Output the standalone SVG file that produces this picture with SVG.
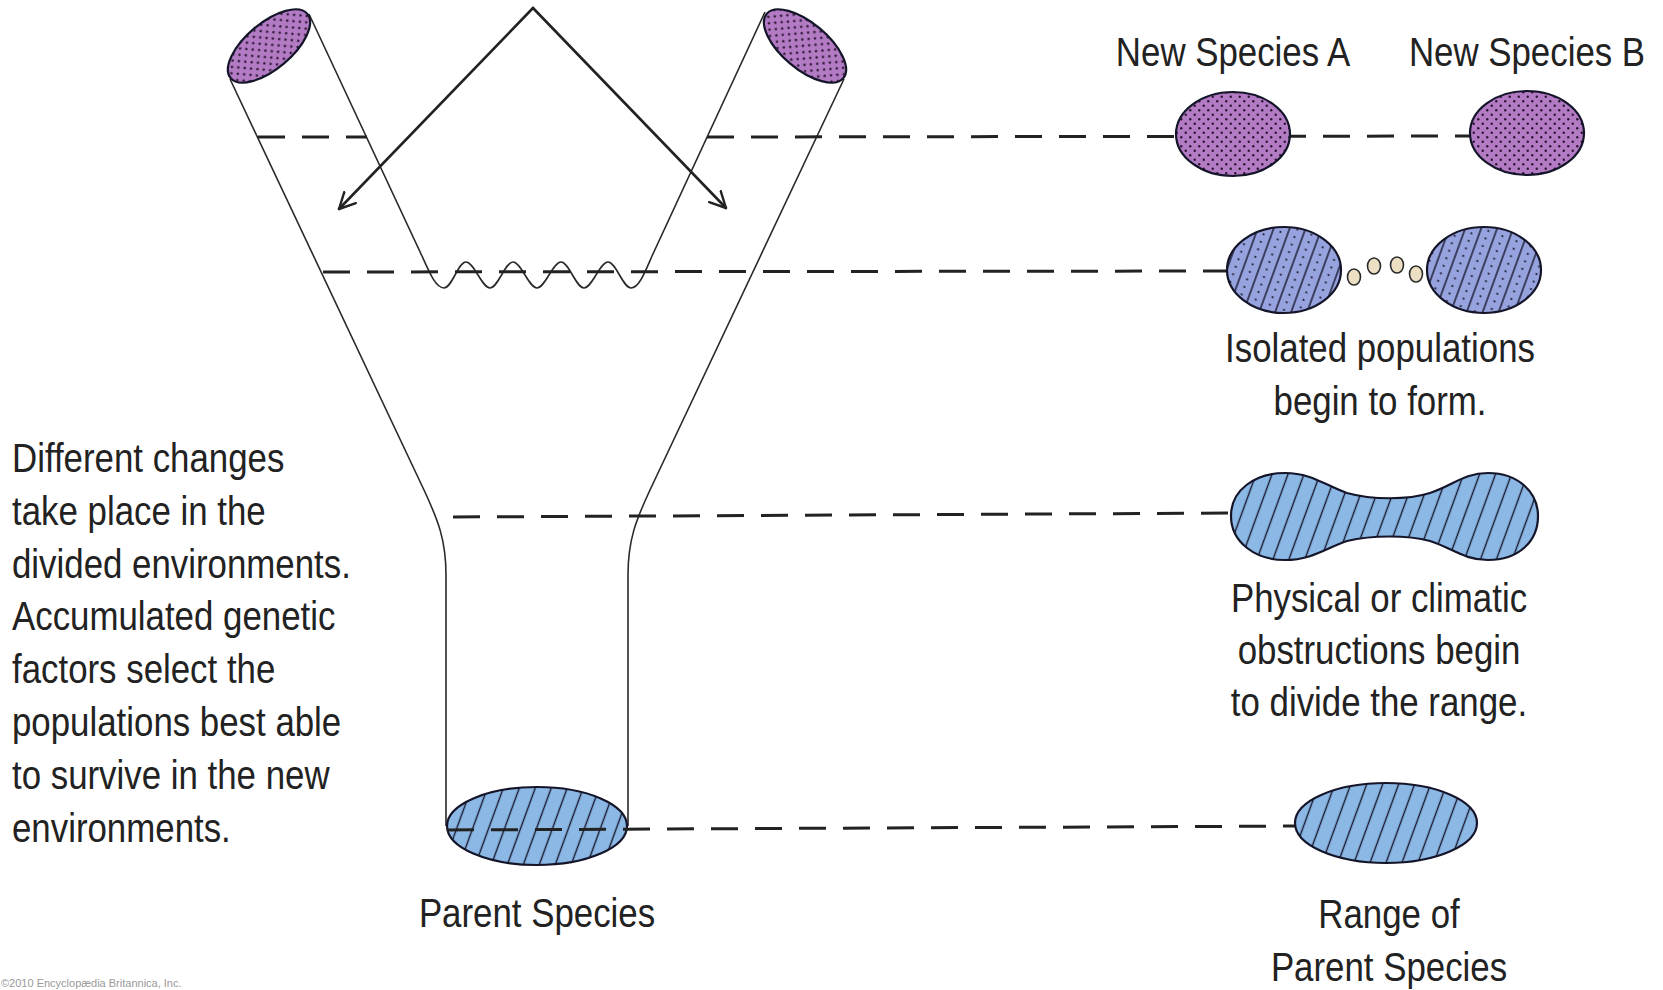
<svg xmlns="http://www.w3.org/2000/svg" width="1663" height="990" viewBox="0 0 1663 990">
<style>
.txt{font-family:"Liberation Sans",Arial,sans-serif;font-size:41px;fill:#222}
.ctr{text-anchor:middle}
.dash{stroke:#222;stroke-width:3;stroke-dasharray:27 17;fill:none}
.cyl{stroke:#2a2a2a;stroke-width:1.6;fill:none}
.arrow{stroke:#222;stroke-width:2.6;fill:none;stroke-linecap:round}
.blob{stroke:#15152a;stroke-width:2.2}
</style>
<defs>
<pattern id="dots" patternUnits="userSpaceOnUse" width="9" height="9">
<rect width="9" height="9" fill="#b27bc4"/>
<circle cx="2.25" cy="2.25" r="1.2" fill="#2a1530"/>
<circle cx="6.75" cy="6.75" r="1.2" fill="#2a1530"/>
</pattern>
<pattern id="hatch" patternUnits="userSpaceOnUse" width="15" height="20" patternTransform="rotate(20)">
<rect width="15" height="20" fill="#8cb8e6"/>
<line x1="7.5" y1="0" x2="7.5" y2="20" stroke="#15152a" stroke-width="1.4"/>
</pattern>
<pattern id="hatchdots" patternUnits="userSpaceOnUse" width="15" height="8" patternTransform="rotate(20)">
<rect width="15" height="8" fill="#97a3de"/>
<line x1="0" y1="0" x2="0" y2="8" stroke="#15152a" stroke-width="1.4"/>
<line x1="15" y1="0" x2="15" y2="8" stroke="#15152a" stroke-width="1.4"/>
<circle cx="7.5" cy="4" r="1.1" fill="#15152a"/>
</pattern>
<marker id="head" markerUnits="userSpaceOnUse" viewBox="0 0 18 18" refX="17" refY="9" markerWidth="18" markerHeight="18" orient="auto">
<path d="M1,1 L17,9 L1,17" fill="none" stroke="#222" stroke-width="2.4" stroke-linecap="round" stroke-linejoin="round"/>
</marker>
</defs>
<rect width="1663" height="990" fill="#fff"/>

<g id="funnel">
<path class="cyl" d="M230,79 L424,490 C438,520 446,540 446,575 L446,826"/>
<path class="cyl" d="M844,79 L650,490 C636,520 628,540 628,575 L628,826"/>
<path class="cyl" d="M309,14 L422,256 C430,274 436,288 444,288 C452,288 458,262 466,262 C474,262 482,288 490,288 C498,288 505,262 513,262 C521,262 529,288 537,288 C545,288 553,262 561,262 C569,262 576,288 584,288 C592,288 600,262 608,262 C616,262 623,288 631,288 C639,288 645,272 652,256 L765,12"/>
</g>
<g id="branch-top-left">
<ellipse class="blob" cx="269" cy="46" rx="50" ry="23" transform="rotate(-40 269 46)" fill="url(#dots)"/>
</g>
<g id="branch-top-right">
<ellipse class="blob" cx="805" cy="46" rx="50" ry="23" transform="rotate(40 805 46)" fill="url(#dots)"/>
</g>
<g id="parent-species">
<ellipse class="blob" cx="537" cy="826" rx="90" ry="39" fill="url(#hatch)"/>
</g>

<g id="connectors">
<line class="dash" x1="258" y1="137" x2="367" y2="137"/>
<line class="dash" x1="707" y1="137" x2="1480" y2="136"/>
<line class="dash" x1="323" y1="272" x2="1240" y2="271"/>
<line class="dash" x1="453" y1="517" x2="1240" y2="513"/>
<line class="dash" x1="447" y1="830" x2="1305" y2="826"/>
<path class="arrow" d="M533,8 L339,209" marker-end="url(#head)"/>
<path class="arrow" d="M533,8 L726,208" marker-end="url(#head)"/>
</g>

<g id="new-species-a">
<ellipse class="blob" cx="1233" cy="134" rx="57" ry="42" fill="url(#dots)"/>
<text class="txt ctr" transform="translate(1233,0) scale(0.85,1)" x="0" y="66">New Species A</text>
</g>
<g id="new-species-b">
<ellipse class="blob" cx="1527" cy="133" rx="57" ry="42" fill="url(#dots)"/>
<text class="txt ctr" transform="translate(1527,0) scale(0.85,1)" x="0" y="66">New Species B</text>
</g>
<g id="isolated-populations">
<ellipse class="blob" cx="1284" cy="270" rx="57" ry="43" fill="url(#hatchdots)"/>
<ellipse class="blob" cx="1484" cy="270" rx="57" ry="43" fill="url(#hatchdots)"/>
<g fill="#ecdfc4" stroke="#2a2a2a" stroke-width="1.6">
<ellipse cx="1354" cy="277" rx="6.5" ry="8"/>
<ellipse cx="1374" cy="266" rx="6.5" ry="8"/>
<ellipse cx="1397" cy="265" rx="6.5" ry="8"/>
<ellipse cx="1416" cy="274" rx="6.5" ry="8"/>
</g>
<text class="txt ctr" transform="translate(1380,0) scale(0.85,1)"><tspan x="0" y="362">Isolated populations</tspan><tspan x="0" y="415">begin to form.</tspan></text>
</g>
<g id="divided-range">
<path class="blob" fill="url(#hatch)" d="M1231,516 C1231,490 1255,473 1285,473 C1312,473 1326,486 1347,493 C1372,500 1408,500 1430,493 C1452,486 1464,473 1488,473 C1518,473 1538,492 1538,516 C1538,542 1518,560 1488,560 C1464,560 1452,548 1430,541 C1408,535 1372,535 1347,541 C1326,548 1312,560 1285,560 C1255,560 1231,542 1231,516 Z"/>
<text class="txt ctr" transform="translate(1379,0) scale(0.85,1)"><tspan x="0" y="612">Physical or climatic</tspan><tspan x="0" y="664">obstructions begin</tspan><tspan x="0" y="716">to divide the range.</tspan></text>
</g>
<g id="range-parent">
<ellipse class="blob" cx="1386" cy="823" rx="91" ry="40" fill="url(#hatch)"/>
<text class="txt ctr" transform="translate(1389,0) scale(0.85,1)"><tspan x="0" y="928">Range of</tspan><tspan x="0" y="981">Parent Species</tspan></text>
</g>
<g id="parent-label">
<text class="txt ctr" transform="translate(537,0) scale(0.85,1)" x="0" y="927">Parent Species</text>
</g>
<g id="left-note">
<text class="txt" transform="translate(12,0) scale(0.85,1)"><tspan x="0" y="472">Different changes</tspan><tspan x="0" y="525">take place in the</tspan><tspan x="0" y="578">divided environments.</tspan><tspan x="0" y="630">Accumulated genetic</tspan><tspan x="0" y="683">factors select the</tspan><tspan x="0" y="736">populations best able</tspan><tspan x="0" y="789">to survive in the new</tspan><tspan x="0" y="842">environments.</tspan></text>
</g>
<g id="credit">
<text x="1" y="987" style="font-family:'Liberation Sans',Arial,sans-serif;font-size:11px;fill:#999">©2010 Encyclopædia Britannica, Inc.</text>
</g>
</svg>
